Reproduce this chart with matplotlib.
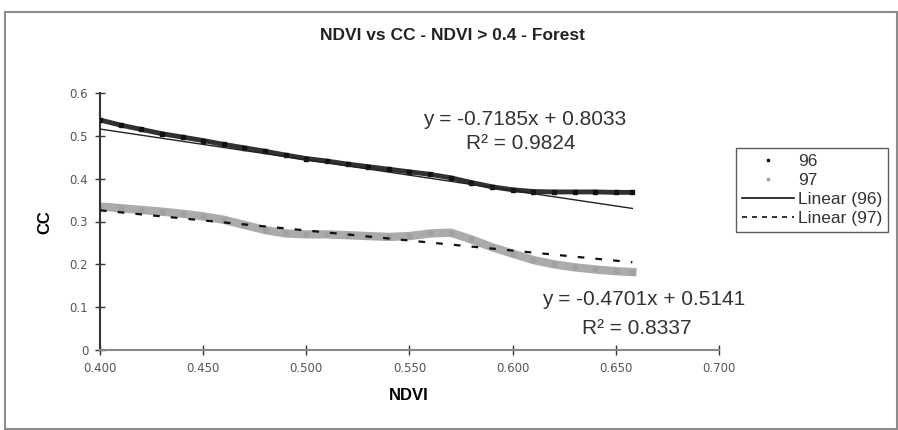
import numpy as np
import matplotlib.pyplot as plt
from matplotlib.lines import Line2D
from matplotlib.patches import Rectangle

# NDVI positions of the plotted points
ndvi = [0.400, 0.410, 0.420, 0.430, 0.440, 0.450, 0.460, 0.470, 0.480,
        0.490, 0.500, 0.510, 0.520, 0.530, 0.540, 0.550, 0.560, 0.570,
        0.580, 0.590, 0.600, 0.610, 0.620, 0.630, 0.640, 0.650, 0.658]

# CC values
cc_96 = [0.537, 0.525, 0.515, 0.505, 0.497, 0.489, 0.480, 0.472, 0.464,
         0.455, 0.447, 0.441, 0.434, 0.428, 0.422, 0.416, 0.410, 0.402,
         0.391, 0.381, 0.374, 0.370, 0.369, 0.369, 0.369, 0.368, 0.368]
cc_97 = [0.335, 0.331, 0.327, 0.323, 0.318, 0.312, 0.304, 0.292, 0.280,
         0.272, 0.270, 0.270, 0.268, 0.266, 0.264, 0.266, 0.272, 0.274,
         0.258, 0.240, 0.225, 0.210, 0.200, 0.193, 0.188, 0.184, 0.182]

# trend line coefficients (slope, intercept, R^2)
fit_96 = (-0.7185, 0.8033, 0.9824)
fit_97 = (-0.4701, 0.5141, 0.8337)

x_ticks = [0.400, 0.450, 0.500, 0.550, 0.600, 0.650, 0.700]
y_ticks = [0, 0.1, 0.2, 0.3, 0.4, 0.5, 0.6]

NARROW = ['Liberation Sans Narrow', 'Liberation Sans', 'DejaVu Sans']
SANS = ['Liberation Sans', 'DejaVu Sans']


def main():
    fig = plt.figure(figsize=(8.98, 4.30), dpi=100)
    ax = fig.add_axes([100 / 898, 1 - 350 / 430, 619 / 898, 257 / 430])

    # outer chart border
    fig.patches.append(Rectangle((5 / 898, 1 / 430), 892 / 898, 417 / 430,
                                 transform=fig.transFigure, fill=False,
                                 edgecolor='#8c8c8c', lw=1.5))

    # data series: thick band of points
    ax.plot(ndvi, cc_96, color='#1a1a1a', lw=3.5, alpha=0.9, zorder=3)
    ax.plot(ndvi, cc_96, ls='none', marker='s', ms=2.5, color='#111111', zorder=3)
    ax.plot(ndvi, cc_97, color='#ababab', lw=6.0, zorder=2)
    ax.plot(ndvi, cc_97, ls='none', marker='s', ms=3, color='#a0a0a0', zorder=2)

    # trend lines
    xs = np.array([ndvi[0], ndvi[-1]])
    ax.plot(xs, fit_96[0] * xs + fit_96[1], color='#222222', lw=1.0, zorder=4)
    ax.plot(xs, fit_97[0] * xs + fit_97[1], color='#111111', lw=1.6,
            ls=(0, (3, 5)), zorder=4)

    ax.set_xlim(0.4, 0.7)
    ax.set_ylim(0, 0.6)
    ax.set_xticks(x_ticks)
    ax.set_xticklabels([f"{v:.3f}" for v in x_ticks])
    ax.set_yticks(y_ticks)
    ax.set_yticklabels(["0"] + [f"{v:.1f}" for v in y_ticks[1:]])
    ax.tick_params(direction='inout', length=7, width=1.0, pad=5,
                   labelsize=8.5, labelcolor='#555555', color='#333333')
    for side in ['top', 'right']:
        ax.spines[side].set_visible(False)
    ax.spines['left'].set_color('#333333')
    ax.spines['left'].set_linewidth(1.5)
    ax.spines['bottom'].set_color('#888888')
    ax.spines['bottom'].set_linewidth(1.5)

    fig.text(452 / 898, 1 - 36 / 430, "NDVI vs CC - NDVI > 0.4 - Forest",
             ha='center', va='center', fontsize=12.5, fontweight='bold',
             family=NARROW, color='#222222')
    fig.text(409 / 898, 1 - 396 / 430, "NDVI", ha='center', va='center',
             fontsize=12, fontweight='bold', family=NARROW)
    fig.text(45 / 898, 1 - 222 / 430, "CC", ha='center', va='center',
             rotation=90, fontsize=12, fontweight='bold', family=NARROW)

    # trend equations, positions in data units
    for (a, b, r2), (xe, ye), (xr, yr) in [
            (fit_96, (0.6059, 0.538), (0.6040, 0.481)),
            (fit_97, (0.6633, 0.117), (0.6600, 0.050))]:
        ax.text(xe, ye, f"y = {a:.4f}x + {b:.4f}", ha='center', va='center',
                fontsize=15, family=SANS, color='#333333', clip_on=False)
        ax.text(xr, yr, f"R\u00b2 = {r2:.4f}", ha='center', va='center',
                fontsize=15, family=SANS, color='#333333', clip_on=False)

    handles = [
        Line2D([], [], ls='none', marker='s', ms=2, color='#111111'),
        Line2D([], [], ls='none', marker='s', ms=2, color='#9a9a9a'),
        Line2D([], [], color='#111111', lw=1.2),
        Line2D([], [], color='#111111', lw=1.2, ls=(0, (3, 3))),
    ]
    labels = ["96", "97", "Linear (96)", "Linear (97)"]
    leg = fig.legend(handles, labels, loc='upper left',
                     bbox_to_anchor=(736 / 898, 1 - 148 / 430),
                     frameon=True, fancybox=False,
                     prop={'family': SANS, 'size': 12.5},
                     handlelength=3.0, handletextpad=0.2, labelspacing=0.22,
                     borderpad=0.35, borderaxespad=0)
    leg.get_frame().set_edgecolor('#333333')
    leg.get_frame().set_linewidth(1.0)
    for t in leg.get_texts():
        t.set_color('#333333')

    fig.savefig("out.png", dpi=100)


if __name__ == "__main__":
    main()
